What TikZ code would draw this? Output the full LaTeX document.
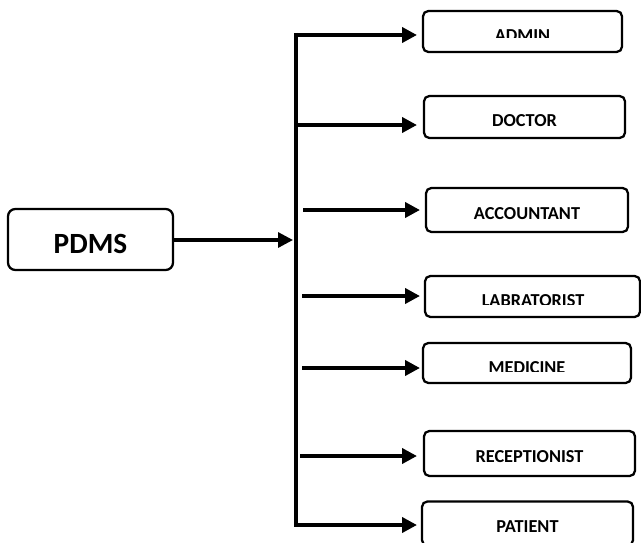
\documentclass[tikz,border=0pt]{standalone}
\usepackage{fontspec}
\setmainfont{Carlito}
\usetikzlibrary{arrows.meta}
\tikzset{
  box/.style={draw, line width=1.7pt, rounded corners=4pt, inner sep=0pt, outer sep=0pt},
  bigbox/.style={box, rounded corners=5.5pt},
  lbl/.style={anchor=base, inner sep=0pt, font=\bfseries\fontsize{13.7}{16}\selectfont},
  biglbl/.style={anchor=base, inner sep=0pt, font=\bfseries\fontsize{22}{26}\selectfont},
  arr/.style={line width=2.9pt, -{Triangle[length=11.25pt,width=11.25pt]}},
  harr/.style={line width=2.4pt, -{Triangle[length=11.25pt,width=11.25pt]}},
  vline/.style={line width=2.5pt}
}
\begin{document}
\begin{tikzpicture}[x=0.75pt,y=-0.75pt]
\useasboundingbox (0,0) rectangle (641,542);
% PDMS
\node[bigbox, minimum width=123.75pt, minimum height=45.75pt] (pdms) at (90.5,239.5) {};
\node[biglbl] (pdmsL) at (90.5,253) {PDMS};
% target boxes
\node[box, minimum width=149.25pt, minimum height=30.75pt] (admin) at (522.5,31.5) {};
\node[box, minimum width=150.75pt, minimum height=31.5pt] (doctor) at (524.5,117) {};
\node[box, minimum width=151.5pt, minimum height=33pt] (acc) at (527,210) {};
\node[box, minimum width=161.25pt, minimum height=30.75pt] (lab) at (532.5,296.5) {};
\node[box, minimum width=156pt, minimum height=30pt] (med) at (527,363) {};
\node[box, minimum width=158.25pt, minimum height=33.75pt] (rec) at (529.5,453.5) {};
\node[box, minimum width=158.25pt, minimum height=33pt] (pat) at (527.5,523.5) {};
% labels
\begin{scope}
  \clip (400,0) rectangle (641,37.3);
  \node[lbl] (adminL) at (522.5,41.8) {ADMIN};
\end{scope}
\node[lbl] (doctorL) at (524.5,126.5) {DOCTOR};
\node[lbl] (accL) at (527,219.5) {ACCOUNTANT};
\begin{scope}
  \clip (400,270) rectangle (641,304.5);
  \node[lbl] (labL) at (533,306.8) {LABRATORIST};
\end{scope}
\begin{scope}
  \clip (400,340) rectangle (641,371.5);
  \node[lbl] (medL) at (527,373.8) {MEDICINE};
\end{scope}
\node[lbl] (recL) at (529.5,462) {RECEPTIONIST};
\node[lbl] (patL) at (527.5,532) {PATIENT};
% hub
\coordinate (hub) at (293,240);
\coordinate (vtop) at (296,33);
\coordinate (vbot) at (296,527);
\draw[harr] (pdms.east |- hub) -- (hub);
\draw[vline] (vtop) -- (vbot);
% branch starts
\coordinate (b1) at (294.5,35);
\coordinate (b2) at (296,125);
\coordinate (b3) at (303,210);
\coordinate (b4) at (302,296);
\coordinate (b5) at (302,368);
\coordinate (b6) at (300,456);
\coordinate (b7) at (294.5,525);
\draw[arr, shorten >=4.5pt] (b1) -- (admin.west |- b1);
\draw[arr, shorten >=5.25pt] (b2) -- (doctor.west |- b2);
\draw[arr, shorten >=4.5pt] (b3) -- (acc.west |- b3);
\draw[arr, shorten >=3.75pt] (b4) -- (lab.west |- b4);
\draw[arr, shorten >=2.25pt] (b5) -- (med.west |- b5);
\draw[arr, shorten >=5.25pt] (b6) -- (rec.west |- b6);
\draw[arr, shorten >=3.75pt] (b7) -- (pat.west |- b7);
\end{tikzpicture}
\end{document}
